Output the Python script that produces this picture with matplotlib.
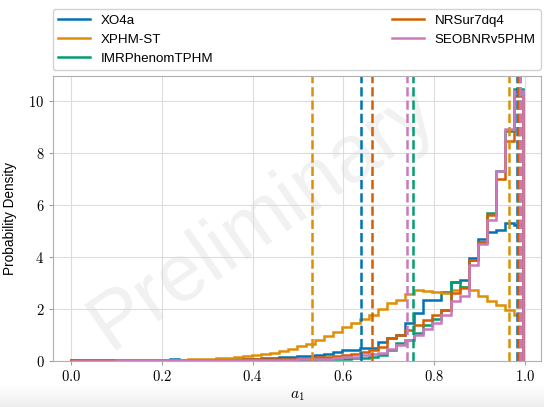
import numpy as np
import matplotlib
matplotlib.use("Agg")
import matplotlib.pyplot as plt
from matplotlib.ticker import FormatStrFormatter

plt.rcParams["font.family"] = ["Liberation Sans", "DejaVu Sans"]
plt.rcParams["mathtext.fontset"] = "cm"

# common bin edges for all a_1 histograms
bin_edges = np.linspace(0.0, 0.995, 51)

labels = ["XO4a", "XPHM-ST", "IMRPhenomTPHM", "NRSur7dq4", "SEOBNRv5PHM"]
colors = ["#0173b2", "#de8f05", "#029e73", "#d55e00", "#cc78bc"]

# probability density per bin
xo4a = [0.02, 0.04, 0.03, 0.02, 0.02, 0.02, 0.02, 0.02, 0.02, 0.02,
        0.03, 0.06, 0.04, 0.03, 0.03, 0.04, 0.04, 0.05, 0.06, 0.07,
        0.08, 0.09, 0.10, 0.12, 0.14, 0.16, 0.18, 0.22, 0.26, 0.33,
        0.40, 0.42, 0.48, 0.50, 0.70, 0.87, 1.00, 1.45, 1.83, 2.34,
        2.34, 2.66, 3.04, 3.10, 3.95, 4.70, 4.97, 5.03, 5.31, 5.22]
xphm_st = [0.00, 0.01, 0.01, 0.01, 0.01, 0.01, 0.01, 0.02, 0.02, 0.02,
           0.03, 0.03, 0.04, 0.05, 0.06, 0.08, 0.09, 0.11, 0.13, 0.16,
           0.20, 0.25, 0.30, 0.38, 0.45, 0.55, 0.65, 0.80, 0.95, 1.10,
           1.28, 1.45, 1.60, 1.75, 2.00, 2.20, 2.35, 2.55, 2.72, 2.68,
           2.66, 2.62, 2.72, 2.84, 2.72, 2.50, 2.30, 2.15, 1.95, 1.75]
imrphenomtphm = [0.00, 0.00, 0.00, 0.00, 0.00, 0.01, 0.01, 0.01, 0.01, 0.01,
                 0.01, 0.01, 0.01, 0.01, 0.02, 0.02, 0.02, 0.02, 0.02, 0.02,
                 0.02, 0.02, 0.03, 0.03, 0.03, 0.03, 0.04, 0.05, 0.06, 0.07,
                 0.08, 0.09, 0.10, 0.12, 0.22, 0.41, 0.68, 0.80, 1.06, 1.37,
                 1.60, 1.95, 3.04, 2.85, 3.88, 4.55, 5.70, 7.30, 8.85, 10.45]
nrsur7dq4 = [0.01, 0.01, 0.01, 0.01, 0.01, 0.01, 0.01, 0.01, 0.01, 0.01,
             0.02, 0.02, 0.02, 0.02, 0.02, 0.03, 0.03, 0.04, 0.04, 0.05,
             0.05, 0.06, 0.06, 0.07, 0.08, 0.09, 0.10, 0.12, 0.14, 0.17,
             0.20, 0.25, 0.32, 0.41, 0.54, 0.87, 0.99, 1.18, 1.37, 1.57,
             1.75, 1.95, 2.60, 2.80, 3.88, 4.58, 5.60, 7.00, 8.45, 10.20]
seobnrv5phm = [0.00, 0.00, 0.00, 0.00, 0.00, 0.01, 0.01, 0.01, 0.01, 0.01,
               0.01, 0.01, 0.01, 0.02, 0.02, 0.02, 0.02, 0.02, 0.03, 0.03,
               0.03, 0.03, 0.04, 0.04, 0.04, 0.05, 0.06, 0.07, 0.08, 0.10,
               0.12, 0.15, 0.20, 0.25, 0.30, 0.45, 0.60, 0.80, 1.00, 1.20,
               1.45, 1.75, 2.30, 2.50, 3.70, 4.50, 5.40, 7.30, 8.90, 10.40]
densities = [xo4a, xphm_st, imrphenomtphm, nrsur7dq4, seobnrv5phm]

# 90% credible bounds (lower, upper)
lower_bounds = [0.639, 0.530, 0.754, 0.663, 0.739]
upper_bounds = [0.982, 0.964, 0.988, 0.985, 0.988]

fig = plt.figure(figsize=(5.44, 4.07), dpi=100)
ax = fig.add_axes([0.097, 0.114, 0.8975, 0.700])

for dens, lo, hi, c, lab in zip(densities, lower_bounds, upper_bounds, colors, labels):
    ax.stairs(dens, bin_edges, color=c, lw=1.8, label=lab, baseline=0)
    ax.axvline(lo, color=c, ls="--", lw=1.8)
    ax.axvline(hi, color=c, ls="--", lw=1.8)

ax.set_xlim(-0.04, 1.035)
ax.set_ylim(0, 10.97)
ax.set_xticks(np.arange(0, 1.01, 0.2))
ax.set_yticks(np.arange(0, 11, 2))
ax.xaxis.set_major_formatter(FormatStrFormatter(r"$%.1f$"))
ax.yaxis.set_major_formatter(FormatStrFormatter(r"$%d$"))
ax.tick_params(labelsize=10.5, length=3, color="#a0a0a0", pad=3)
ax.grid(True, color="#dcdcdc", lw=0.8)
ax.set_axisbelow(True)
for sp in ax.spines.values():
    sp.set_color("#b0b0b0")

ax.set_xlabel(r"$a_1$", fontsize=11)
ax.set_ylabel("Probability Density", fontsize=9.8, labelpad=8)

ax.text(0.43, 0.5, "Preliminary", transform=ax.transAxes, fontsize=58,
        color="#000000", alpha=0.06, rotation=35, ha="center", va="center",
        zorder=0)

ax.legend(bbox_to_anchor=(0.0, 1.02, 1.0, 0.102), loc="lower left", ncol=2,
          mode="expand", borderaxespad=0.0, fontsize=9.6, handlelength=2.4,
          edgecolor="#c8c8c8")

# soft shading along the bottom edge
shade = fig.add_axes([0, 0, 1, 0.055], zorder=-1)
grad = np.linspace(0, 1, 50).reshape(-1, 1)
shade.imshow(grad, aspect="auto", cmap="Greys", vmin=0, vmax=7,
             origin="upper", extent=[0, 1, 0, 1])
shade.set_axis_off()

fig.savefig("out.png", dpi=100)
